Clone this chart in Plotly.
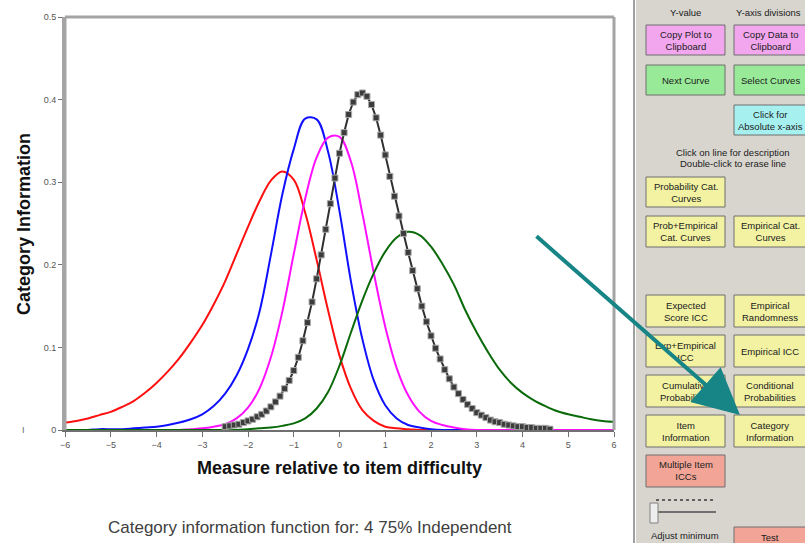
import plotly.graph_objects as go

# measure grid (logits) used by the four plain curves
theta = [-6, -5.75, -5.5, -5.25, -5, -4.75, -4.5, -4.25, -4, -3.75, -3.5, -3.25,
         -3, -2.75, -2.5, -2.25, -2, -1.75, -1.5, -1.25, -1, -0.75, -0.5, -0.25,
         0, 0.25, 0.5, 0.75, 1, 1.25, 1.5, 1.75, 2, 2.25, 2.5, 2.75, 3, 3.25,
         3.5, 3.75, 4, 4.25, 4.5, 4.75, 5, 5.25, 5.5, 5.75, 6]

cat_red = [0.009, 0.011, 0.014, 0.018, 0.022, 0.028, 0.035, 0.045, 0.057, 0.071, 0.087, 0.106,
           0.127, 0.152, 0.180, 0.213, 0.246, 0.277, 0.302, 0.313, 0.303, 0.263, 0.206, 0.145,
           0.090, 0.050, 0.024, 0.011, 0.004, 0.002, 0.001, 0, 0, 0, 0, 0, 0, 0,
           0, 0, 0, 0, 0, 0, 0, 0, 0, 0, 0]
cat_blue = [0, 0, 0, 0.001, 0.001, 0.001, 0.002, 0.003, 0.004, 0.006, 0.009, 0.013,
            0.019, 0.029, 0.044, 0.066, 0.098, 0.143, 0.212, 0.285, 0.340, 0.377, 0.376, 0.337,
            0.265, 0.180, 0.110, 0.060, 0.030, 0.014, 0.006, 0.003, 0.001, 0, 0, 0, 0, 0,
            0, 0, 0, 0, 0, 0, 0, 0, 0, 0, 0]
cat_magenta = [0, 0, 0, 0, 0, 0, 0, 0, 0, 0, 0, 0.001,
               0.002, 0.004, 0.007, 0.014, 0.027, 0.050, 0.088, 0.143, 0.213, 0.280, 0.330, 0.354,
               0.355, 0.325, 0.262, 0.190, 0.125, 0.075, 0.042, 0.022, 0.011, 0.006, 0.003, 0.001, 0, 0,
               0, 0, 0, 0, 0, 0, 0, 0, 0, 0, 0]
cat_green = [0, 0, 0, 0, 0, 0, 0, 0, 0, 0, 0, 0,
             0, 0, 0, 0, 0.001, 0.002, 0.003, 0.005, 0.008, 0.014, 0.026, 0.046,
             0.078, 0.118, 0.157, 0.190, 0.216, 0.233, 0.240, 0.236, 0.222, 0.201, 0.176, 0.145, 0.118, 0.094,
             0.073, 0.057, 0.045, 0.036, 0.029, 0.023, 0.019, 0.016, 0.013, 0.011, 0.010]

# the marked (selected) curve is drawn at a finer step
theta_fine = [-2.5, -2.4, -2.3, -2.2, -2.1, -2.0, -1.9, -1.8, -1.7, -1.6, -1.5, -1.4, -1.3,
              -1.2, -1.1, -1.0, -0.9, -0.8, -0.7, -0.6, -0.5, -0.4, -0.3, -0.2, -0.1, 0.0,
              0.1, 0.2, 0.3, 0.4, 0.5, 0.6, 0.7, 0.8, 0.9, 1.0, 1.1, 1.2, 1.3, 1.4, 1.5,
              1.6, 1.7, 1.8, 1.9, 2.0, 2.1, 2.2, 2.3, 2.4, 2.5, 2.6, 2.7, 2.8, 2.9, 3.0,
              3.1, 3.2, 3.3, 3.4, 3.5, 3.6, 3.7, 3.8, 3.9, 4.0, 4.1, 4.2, 4.3, 4.4, 4.5, 4.6]
cat_black = [0.004, 0.005, 0.006, 0.007, 0.009, 0.011, 0.013, 0.016, 0.019, 0.023, 0.028, 0.034, 0.041,
             0.050, 0.060, 0.072, 0.088, 0.108, 0.130, 0.155, 0.183, 0.212, 0.243, 0.274, 0.305, 0.335,
             0.360, 0.382, 0.397, 0.406, 0.408, 0.404, 0.394, 0.378, 0.357, 0.333, 0.307, 0.283, 0.259, 0.238, 0.215,
             0.193, 0.171, 0.150, 0.131, 0.114, 0.099, 0.086, 0.073, 0.062, 0.052, 0.044, 0.037, 0.031, 0.026, 0.021,
             0.018, 0.015, 0.012, 0.010, 0.009, 0.007, 0.006, 0.005, 0.004, 0.004, 0.003, 0.003, 0.002, 0.002, 0.002, 0.001]

x_ticks = [-6, -5, -4, -3, -2, -1, 0, 1, 2, 3, 4, 5, 6]
y_ticks = [0, 0.1, 0.2, 0.3, 0.4, 0.5]
y_labels = ["0", "0.1", "0.2", "0.3", "0.4", "0.5"]

W, H = 805, 543
L, R, T, B = 65, 614, 17, 430
FONT = "Liberation Sans, Arial"


def px(x):
    return (x - L) / (R - L)


def py(y):
    return (B - y) / (B - T)


def label(x, y, txt, size=10, color="#202020", anchor="center", **kw):
    return dict(xref="paper", yref="paper", x=px(x), y=py(y), text=txt, showarrow=False,
                xanchor=anchor, yanchor="middle", font=dict(family=FONT, size=size, color=color), **kw)


fig = go.Figure()
for ys, col in [(cat_red, "#ff1010"), (cat_blue, "#1010ff"),
                (cat_magenta, "#ff10ff"), (cat_green, "#0a6a0a")]:
    fig.add_trace(go.Scatter(x=theta, y=ys, mode="lines", line=dict(color=col, width=2, shape="spline"),
                             showlegend=False, hoverinfo="skip"))
fig.add_trace(go.Scatter(x=theta_fine, y=cat_black, mode="lines+markers",
                         line=dict(color="#303030", width=2),
                         marker=dict(symbol="square", size=6, color="#3c3c3c",
                                     line=dict(color="#a8a8a8", width=1)),
                         showlegend=False, hoverinfo="skip"))

shapes = []
# grey frame (top, left, right)
for x0, y0, x1, y1 in [(L, T, R, T), (L, T, L, B), (R, T, R, B)]:
    shapes.append(dict(type="line", xref="paper", yref="paper", x0=px(x0), y0=py(y0), x1=px(x1), y1=py(y1),
                       line=dict(color="#a4a4a4", width=3), layer="above"))

# side panel
shapes.append(dict(type="rect", xref="paper", yref="paper", x0=px(636), x1=px(810), y0=py(-5), y1=py(550),
                   fillcolor="#d8d5cf", line=dict(width=0), layer="below"))
shapes.append(dict(type="line", xref="paper", yref="paper", x0=px(634), x1=px(634), y0=py(-5), y1=py(550),
                   line=dict(color="#a0a0a0", width=2), layer="below"))

PINK, GREEN, CYAN, YELLOW, SALMON = "#f2a6ee", "#98ea98", "#a6f0f0", "#f2f2a2", "#f2a496"
buttons = [
    (646, 25, 725, 55, PINK, "Copy Plot to<br>Clipboard"),
    (734, 25, 813, 55, PINK, "Copy Data to<br>Clipboard"),
    (646, 65, 725, 95, GREEN, "Next Curve"),
    (734, 65, 813, 95, GREEN, "Select Curves"),
    (734, 105, 813, 135, CYAN, "Click for<br>Absolute x-axis"),
    (646, 177, 725, 207, YELLOW, "Probability Cat.<br>Curves"),
    (646, 216, 725, 247, YELLOW, "Prob+Empirical<br>Cat. Curves"),
    (734, 216, 813, 247, YELLOW, "Empirical Cat.<br>Curves"),
    (646, 295, 725, 327, YELLOW, "Expected<br>Score ICC"),
    (734, 295, 813, 327, YELLOW, "Empirical<br>Randomness"),
    (646, 335, 725, 367, YELLOW, "Exp+Empirical<br>ICC"),
    (734, 335, 813, 367, YELLOW, "Empirical ICC"),
    (646, 375, 725, 407, YELLOW, "Cumulative<br>Probabilities"),
    (734, 375, 813, 407, YELLOW, "Conditional<br>Probabilities"),
    (646, 415, 725, 447, YELLOW, "Item<br>Information"),
    (734, 415, 813, 447, YELLOW, "Category<br>Information"),
    (646, 455, 725, 487, SALMON, "Multiple Item<br>ICCs"),
    (734, 527, 813, 560, SALMON, "Test"),
]
annotations = []
for x0, y0, x1, y1, col, txt in buttons:
    shapes.append(dict(type="rect", xref="paper", yref="paper", x0=px(x0), x1=px(x1), y0=py(y0), y1=py(y1),
                       fillcolor=col, line=dict(color="#6e6e6e", width=1), layer="below"))
    if x1 > W:
        # right column is cut by the window edge; keep its text inside
        cx = 770
        cy = 537 if txt == "Test" else (y0 + y1) / 2
        annotations.append(label(cx, cy, txt, size=9.5))
    else:
        annotations.append(label((x0 + x1) / 2, (y0 + y1) / 2, txt, size=9.5))

# slider
shapes.append(dict(type="line", xref="paper", yref="paper", x0=px(652), x1=px(716), y0=py(512), y1=py(512),
                   line=dict(color="#707070", width=2), layer="below"))
shapes.append(dict(type="rect", xref="paper", yref="paper", x0=px(650), x1=px(658), y0=py(503), y1=py(523),
                   fillcolor="#eeeeee", line=dict(color="#808080", width=1), layer="below"))
shapes.append(dict(type="line", xref="paper", yref="paper", x0=px(656), x1=px(714), y0=py(500), y1=py(500),
                   line=dict(color="#606060", width=2, dash="dot"), layer="below"))

annotations += [
    label(685, 12, "Y-value", size=9.5),
    label(803, 12, "Y-axis divisions", size=9.5, anchor="right"),
    label(733, 152, "Click on line for description", size=9.5),
    label(733, 163, "Double-click to erase line", size=9.5),
    label(685, 535, "Adjust minimum", size=9.5),
]

# titles
annotations += [
    label(24, 224, "<b>Category Information</b>", size=18, color="#111111", textangle=-90),
    label(339, 468, "<b>Measure relative to item difficulty</b>", size=18, color="#111111"),
    label(310, 527, "Category information function for: 4 75% Independent", size=17, color="#404040"),
    label(23, 430, "I", size=9, color="#666666"),
]

# teal pointer arrow
annotations.append(dict(xref="paper", yref="paper", x=px(740), y=py(415), ax=535 - 740, ay=235 - 415,
                        text="", showarrow=True, arrowhead=2, arrowsize=2.3, arrowwidth=4,
                        arrowcolor="#178585", standoff=0))

fig.update_layout(
    width=W, height=H,
    margin=dict(l=L, r=W - R, t=T, b=H - B),
    paper_bgcolor="white", plot_bgcolor="white",
    showlegend=False,
    shapes=shapes,
    annotations=annotations,
    xaxis=dict(range=[-6, 6], tickvals=x_ticks, showgrid=False, zeroline=False,
               showline=True, linecolor="#707070", linewidth=1.5,
               ticks="outside", ticklen=5, tickcolor="#707070",
               tickfont=dict(family=FONT, size=9, color="#555555")),
    yaxis=dict(range=[0, 0.5], tickvals=y_ticks, ticktext=y_labels, showgrid=False, zeroline=False,
               showline=True, linecolor="#a4a4a4", linewidth=3,
               ticks="outside", ticklen=4, tickcolor="#707070",
               tickfont=dict(family=FONT, size=9, color="#555555")),
)

fig.write_html("out.html", config={"displayModeBar": False},
               post_script="document.body.style.margin='0';")
